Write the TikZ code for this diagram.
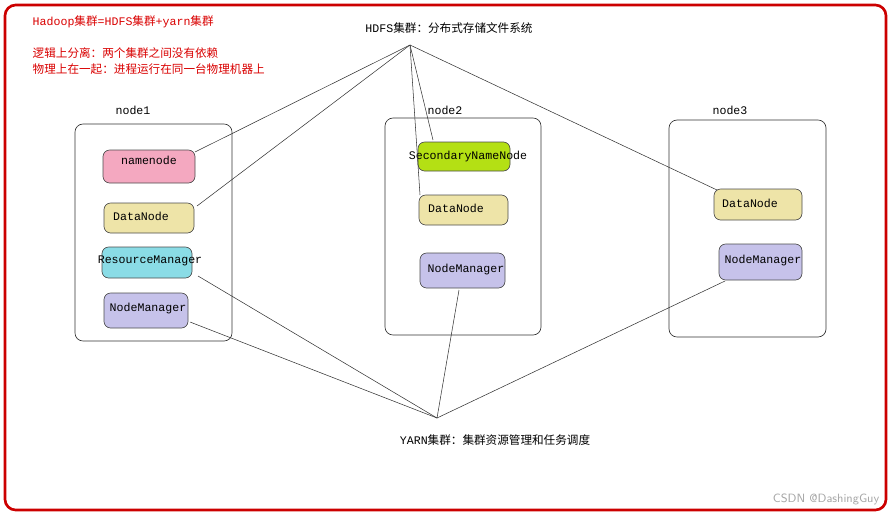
\documentclass[tikz,border=0pt]{standalone}
\usepackage{fontspec}
\setmainfont{Liberation Mono}
\newfontfamily\cjk{Noto Sans CJK SC}
\newcommand{\zh}[1]{{\cjk #1}}
\definecolor{cpink}{HTML}{F4A8C0}
\definecolor{cyel}{HTML}{EEE4A8}
\definecolor{ccyan}{HTML}{8ADCE6}
\definecolor{cpur}{HTML}{C6C2EA}
\definecolor{cgrn}{HTML}{B4E014}
\begin{document}
\begin{tikzpicture}[x=0.75pt,y=-0.75pt,font=\fontsize{8.7}{10}\selectfont,
  box/.style={draw=black!80,rounded corners=6pt,line width=0.5pt},
  proc/.style={draw=black!70,rounded corners=5pt,line width=0.5pt},
  ln/.style={draw=black!80,line width=0.4pt},
  red/.style={text=red!85!black,anchor=west}]
\useasboundingbox (0,0) rectangle (891,515);
\draw[red!80!black,line width=2pt,rounded corners=8pt] (5,5) rectangle (886,510);
\node[red] (t1) at (28,22) {Hadoop\zh{集群}=HDFS\zh{集群}+yarn\zh{集群}};
\node[red] (t2) at (28,53) {\zh{逻辑上分离：两个集群之间没有依赖}};
\node[red] (t3) at (28,69) {\zh{物理上在一起：进程运行在同一台物理机器上}};
\node (hdfs) at (449,28) {HDFS\zh{集群：分布式存储文件系统}};
\node (yarn) at (495,440) {YARN\zh{集群：集群资源管理和任务调度}};
\coordinate (hh) at (410,45);
\coordinate (yh) at (437,418);
\draw[box] (75,124) rectangle (232,341);
\draw[box] (385,118) rectangle (541,335);
\draw[box] (669,120) rectangle (826,337);
\node (l1) at (133,110) {node1};
\node (l2) at (445,110) {node2};
\node (l3) at (730,110) {node3};
\filldraw[proc,fill=cpink] (103,150) rectangle (195,183);
\node (nn) at (149,160) {namenode};
\filldraw[proc,fill=cyel] (104,203) rectangle (194,233);
\node (dn1) at (141,216) {DataNode};
\filldraw[proc,fill=ccyan] (102,247) rectangle (192,278);
\node (rm) at (150,261) {ResourceManager};
\filldraw[proc,fill=cpur] (104,293) rectangle (188,328);
\node (nm1) at (148,308) {NodeManager};
\filldraw[proc,fill=cgrn] (418,142) rectangle (510,171);
\node (snn) at (468,156) {SecondaryNameNode};
\filldraw[proc,fill=cyel] (419,195) rectangle (508,225);
\node (dn2) at (456,208) {DataNode};
\filldraw[proc,fill=cpur] (420,253) rectangle (505,288);
\node (nm2) at (466,269) {NodeManager};
\filldraw[proc,fill=cyel] (714,189) rectangle (802,220);
\node (dn3) at (750,203) {DataNode};
\filldraw[proc,fill=cpur] (719,244) rectangle (802,280);
\node (nm3) at (763,260) {NodeManager};
\draw[ln] (hh) -- (195,152);
\draw[ln] (hh) -- (197,206);
\draw[ln] (hh) -- (433,140);
\draw[ln] (hh) -- (420,195);
\draw[ln] (hh) -- (717,190);
\draw[ln] (yh) -- (198,276);
\draw[ln] (yh) -- (190,322);
\draw[ln] (yh) -- (459,290);
\draw[ln] (yh) -- (725,281);
\node[text=black!35,anchor=east,font=\fontsize{9}{10}\selectfont\sffamily] (wm) at (884,499) {CSDN @DashingGuy};
\end{tikzpicture}
\end{document}
